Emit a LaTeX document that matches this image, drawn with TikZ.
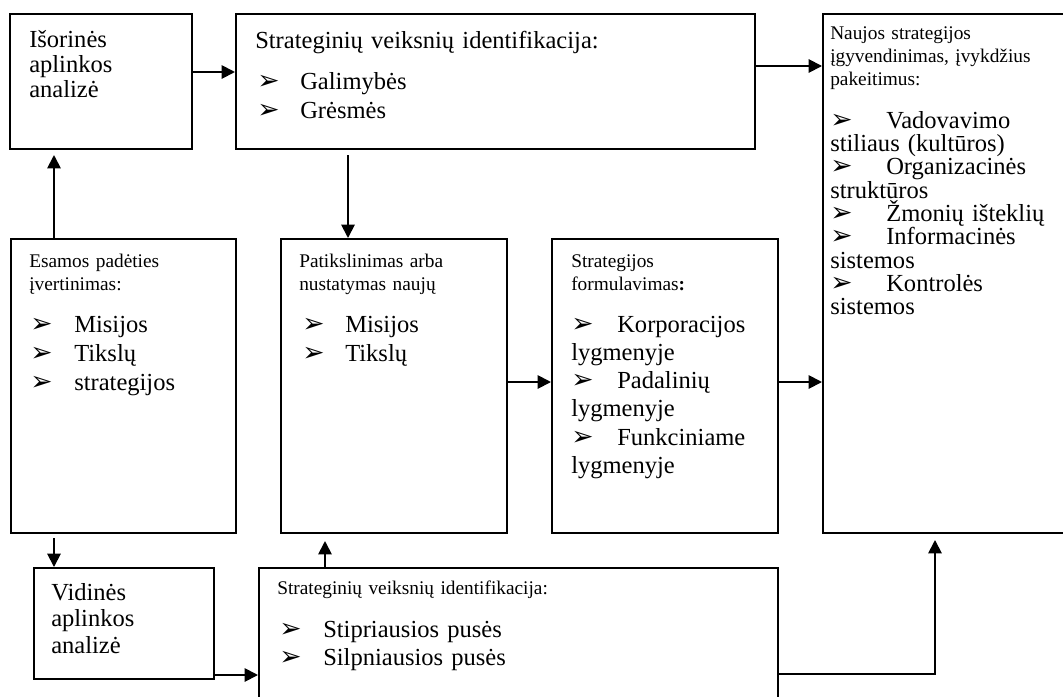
\documentclass[tikz,border=0pt]{standalone}
\usepackage{fontspec}
\setmainfont{Liberation Serif}
\newfontfamily\dejavu{DejaVu Sans}
\usetikzlibrary{arrows.meta}
\newdimen\px \px=0.75pt
\newcommand\bul{{\dejavu\fontsize{20}{20}\selectfont ➢}}
\newcommand\bitem[1]{\makebox[#1][l]{\bul}}
\begin{document}
\begin{tikzpicture}[x=0.75pt,y=-0.75pt,
  box/.style={draw, line width=1.4pt, inner sep=0pt, anchor=north west},
  txt/.style={anchor=base west, inner sep=0pt, align=left},
  bigtxt/.style={font=\fontsize{18.4}{#1}\selectfont},
  smalltxt/.style={font=\fontsize{14.5}{17.25}\selectfont},
  arr/.style={line width=1.4pt, -{Triangle[length=10pt,width=10pt]}}]
\useasboundingbox (0,0) rectangle (1063,696);
\fill[white] (0,0) rectangle (1063,696);
\clip (0,0) rectangle (1063,696);
% boxes
\node[box, minimum width=182\px, minimum height=135\px] (ext) at (9,13) {};
\node[box, minimum width=519\px, minimum height=135\px] (sf1) at (235,13) {};
\node[box, minimum width=260\px, minimum height=519\px] (impl) at (822,13) {};
\node[box, minimum width=225\px, minimum height=294\px] (cur) at (10,238) {};
\node[box, minimum width=226\px, minimum height=294\px] (ref) at (280,238) {};
\node[box, minimum width=226\px, minimum height=294\px] (form) at (551,238) {};
\node[box, minimum width=180\px, minimum height=111\px] (int) at (33,567) {};
\node[box, minimum width=519\px, minimum height=160\px] (sf2) at (258,567) {};
% texts
\node[txt, bigtxt=18.75, text width=160\px] (extT) at (29,47) {Išorinės\\aplinkos\\analizė};
\node[txt, bigtxt=21.75, text width=480\px] (sf1H) at (255,48) {Strateginių veiksnių identifikacija:};
\node[txt, bigtxt=21.75, text width=400\px] (sf1L) at (257,89) {\bitem{32.25pt}Galimybės\\\bitem{32.25pt}Grėsmės};
\node[txt, smalltxt, text width=230\px] (implH) at (830,39) {Naujos strategijos\\įgyvendinimas, įvykdžius\\pakeitimus:};
\node[txt, bigtxt=17.5, text width=230\px] (implL) at (830,128) {\bitem{42pt}Vadovavimo\\stiliaus (kultūros)\\\bitem{42pt}Organizacinės\\struktūros\\\bitem{42pt}Žmonių išteklių\\\bitem{42pt}Informacinės\\sistemos\\\bitem{42pt}Kontrolės\\sistemos};
\node[txt, smalltxt, text width=200\px] (curH) at (29,267) {Esamos padėties\\įvertinimas:};
\node[txt, bigtxt=21.75, text width=200\px] (curL) at (30,332) {\bitem{33pt}Misijos\\\bitem{33pt}Tikslų\\\bitem{33pt}strategijos};
\node[txt, smalltxt, text width=200\px] (refH) at (299,267) {Patikslinimas arba\\nustatymas naujų};
\node[txt, bigtxt=21.75, text width=200\px] (refL) at (302,332) {\bitem{32.25pt}Misijos\\\bitem{32.25pt}Tikslų};
\node[txt, smalltxt, text width=200\px] (formH) at (571,267) {Strategijos\\formulavimas\textbf{:}};
\node[txt, bigtxt=21.2, text width=200\px] (formL) at (571,332) {\bitem{34.5pt}Korporacijos\\lygmenyje\\\bitem{34.5pt}Padalinių\\lygmenyje\\\bitem{34.5pt}Funkciniame\\lygmenyje};
\node[txt, bigtxt=19.9, text width=160\px] (intT) at (51,600) {Vidinės\\aplinkos\\analizė};
\node[txt, smalltxt, text width=480\px] (sf2H) at (277,594) {Strateginių veiksnių identifikacija:};
\node[txt, bigtxt=21, text width=400\px] (sf2L) at (279,637) {\bitem{33pt}Stipriausios pusės\\\bitem{33pt}Silpniausios pusės};
% connector helpers
\coordinate (y1) at (0,72);
\coordinate (y2) at (0,66);
\coordinate (a3) at (348,155);
\coordinate (a4) at (54,155);
\coordinate (y5) at (0,382);
\coordinate (a7) at (54,538);
\coordinate (y8) at (0,675);
\coordinate (a9) at (325,541);
\coordinate (y10) at (0,674);
\coordinate (a10) at (935,540);
% connectors
\draw[arr] (ext.east |- y1) -- (sf1.west |- y1);
\draw[arr] (sf1.east |- y2) -- (impl.west |- y2);
\draw[arr] (a3) -- (a3 |- ref.north);
\draw[arr] (a4 |- cur.north) -- (a4);
\draw[arr] (ref.east |- y5) -- (form.west |- y5);
\draw[arr] (form.east |- y5) -- (impl.west |- y5);
\draw[arr] (a7) -- (a7 |- int.north);
\draw[arr] (int.east |- y8) -- (sf2.west |- y8);
\draw[arr] (a9 |- sf2.north) -- (a9);
\draw[arr] (sf2.east |- y10) -| (a10);
\end{tikzpicture}
\end{document}
